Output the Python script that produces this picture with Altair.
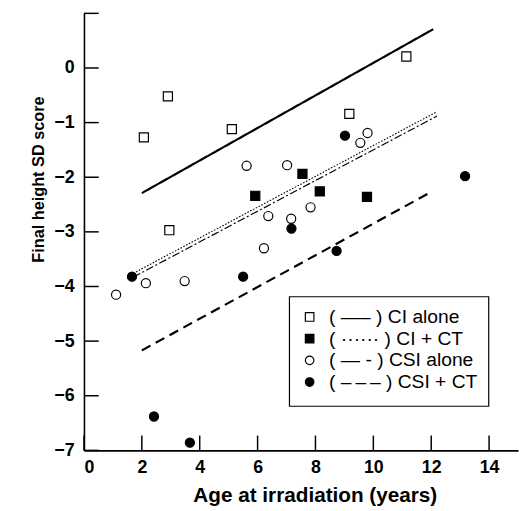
import altair as alt
import pandas as pd

# ---- data ----
groups = ["CI alone", "CI + CT", "CSI alone", "CSI + CT"]

ci_alone_x = [2.07, 2.90, 2.95, 5.11, 9.17, 11.14]
ci_alone_y = [-1.27, -0.52, -2.97, -1.12, -0.84, 0.21]
ci_ct_x = [5.92, 7.55, 8.15, 9.78]
ci_ct_y = [-2.34, -1.94, -2.26, -2.36]
csi_alone_x = [1.11, 2.14, 3.48, 5.62, 6.22, 6.37, 7.02, 7.16, 7.83, 9.55, 9.80]
csi_alone_y = [-4.15, -3.94, -3.90, -1.79, -3.30, -2.71, -1.78, -2.76, -2.55, -1.37, -1.19]
csi_ct_x = [1.66, 2.42, 3.66, 5.50, 7.17, 8.73, 9.02, 13.17]
csi_ct_y = [-3.82, -6.38, -6.86, -3.82, -2.94, -3.35, -1.24, -1.98]

# regression line end points, per group
line_x0 = [2.0, 1.7, 1.7, 2.0]
line_y0 = [-2.29, -3.76, -3.83, -5.17]
line_x1 = [12.07, 12.2, 12.2, 11.96]
line_y1 = [0.71, -0.80, -0.88, -2.28]

x_ticks = [0, 2, 4, 6, 8, 10, 12, 14]
y_ticks = [-7, -6, -5, -4, -3, -2, -1, 0, 1]
y_labels = [-7, -6, -5, -4, -3, -2, -1, 0]

legend_text = {
    "CI alone": "( \u2014\u2013 ) CI alone",
    "CI + CT": "( \u00b7\u00b7\u00b7\u00b7\u00b7\u00b7 ) CI + CT",
    "CSI alone": "( \u2014 - ) CSI alone",
    "CSI + CT": "( \u2013\u2009\u2013\u2009\u2013 ) CSI + CT",
}

# line styles (dash pattern, width) per group
line_styles = {
    "CI alone": ([1, 0], 2.2),
    "CI + CT": ([1.6, 1.6], 1.1),
    "CSI alone": ([8, 2.5, 2, 2.5], 1.2),
    "CSI + CT": ([10, 6], 2.2),
}

# ---- tables ----
rows = []
for g, xs, ys in zip(groups, [ci_alone_x, ci_ct_x, csi_alone_x, csi_ct_x],
                     [ci_alone_y, ci_ct_y, csi_alone_y, csi_ct_y]):
    for a, b in zip(xs, ys):
        rows.append({"group": g, "age": a, "sd": b})
pts = pd.DataFrame(rows)

lrows = []
for g, a0, b0, a1, b1 in zip(groups, line_x0, line_y0, line_x1, line_y1):
    lrows.append({"fit": g, "age": a0, "sd": b0, "ord": 0})
    lrows.append({"fit": g, "age": a1, "sd": b1, "ord": 1})
lines = pd.DataFrame(lrows)

xt = pd.DataFrame({"v": x_ticks})
yt = pd.DataFrame({"v": y_ticks})

W, H = 440, 443
xscale = alt.Scale(domain=[0, 15], nice=False, zero=False)
yscale = alt.Scale(domain=[-7, 1], nice=False, zero=False)

label_expr = " : ".join(
    [f"datum.label == '{k}' ? '{v}'" for k, v in legend_text.items()]
) + " : datum.label"

x_axis = alt.Axis(values=x_ticks, ticks=False, grid=False, labelPadding=8,
                  format="d",
                  labelFontSize=18, labelFontWeight="bold", labelFont="Liberation Sans",
                  title="Age at irradiation (years)", titleFontSize=21,
                  titleFontWeight="bold", titleFont="Liberation Sans",
                  titleBaseline="alphabetic", titleX=234, titleY=52,
                  domainColor="black", domainWidth=1.6, labelColor="black",
                  titleColor="black")
y_axis = alt.Axis(values=y_labels, ticks=False, grid=False, labelPadding=10,
                  format="d",
                  labelFontSize=18, labelFontWeight="bold", labelFont="Liberation Sans",
                  title="Final height SD score", titleFontSize=16.5,
                  titleFontWeight="bold", titleFont="Liberation Sans",
                  titleAngle=270, titleBaseline="middle", titleAlign="center",
                  titleX=-46, titleY=168,
                  domainColor="black", domainWidth=1.6, labelColor="black",
                  titleColor="black")

layers = []
for g in groups:
    dash, sw = line_styles[g]
    layers.append(
        alt.Chart(lines).transform_filter(alt.datum.fit == g)
        .mark_line(color="black", strokeDash=dash, strokeWidth=sw)
        .encode(
            x=alt.X("age:Q", scale=xscale, axis=x_axis),
            y=alt.Y("sd:Q", scale=yscale, axis=y_axis),
            order="ord:Q",
        )
    )

leg = alt.Legend(title=" ", titleOrient="bottom", titleFontSize=4, titlePadding=0,
                 orient="none", legendX=208, legendY=287,
                 labelExpr=label_expr, padding=11, strokeColor="black",
                 fillColor="white", symbolSize=75, symbolStrokeWidth=1.2,
                 labelFontSize=19.5, labelFont="Liberation Sans",
                 labelColor="black", labelOffset=10, rowPadding=1, labelLimit=300)
point_layer = alt.Chart(pts).mark_point(filled=True, size=85, opacity=1,
                                        strokeWidth=1.2).encode(
    x=alt.X("age:Q", scale=xscale, axis=x_axis),
    y=alt.Y("sd:Q", scale=yscale, axis=y_axis),
    shape=alt.Shape("group:N", scale=alt.Scale(
        domain=groups, range=["square", "square", "circle", "circle"]), legend=leg),
    fill=alt.Fill("group:N", scale=alt.Scale(
        domain=groups, range=["white", "black", "white", "black"]), legend=leg),
    stroke=alt.Stroke("group:N", scale=alt.Scale(
        domain=groups, range=["black", "black", "black", "black"]), legend=leg),
)

ytick_layer = alt.Chart(yt).mark_rule(color="black", strokeWidth=1.5).encode(
    y=alt.Y("v:Q", scale=yscale, axis=y_axis),
    x=alt.value(0), x2=alt.value(15),
)
xtick_layer = alt.Chart(xt).mark_rule(color="black", strokeWidth=1.5).encode(
    x=alt.X("v:Q", scale=xscale, axis=x_axis),
    y=alt.value(H), y2=alt.value(H - 15),
)

chart = alt.layer(*layers, ytick_layer, xtick_layer, point_layer).properties(
    width=W, height=H,
    autosize=alt.AutoSizeParams(type="none"),
    padding={"left": 77, "top": 2, "right": 2, "bottom": 56},
).configure(font="Liberation Sans", background="white"
).configure_view(stroke=None
).configure_legend(strokeWidth=1.2)

chart.save("out.html", embed_options={"renderer": "svg", "actions": False})
